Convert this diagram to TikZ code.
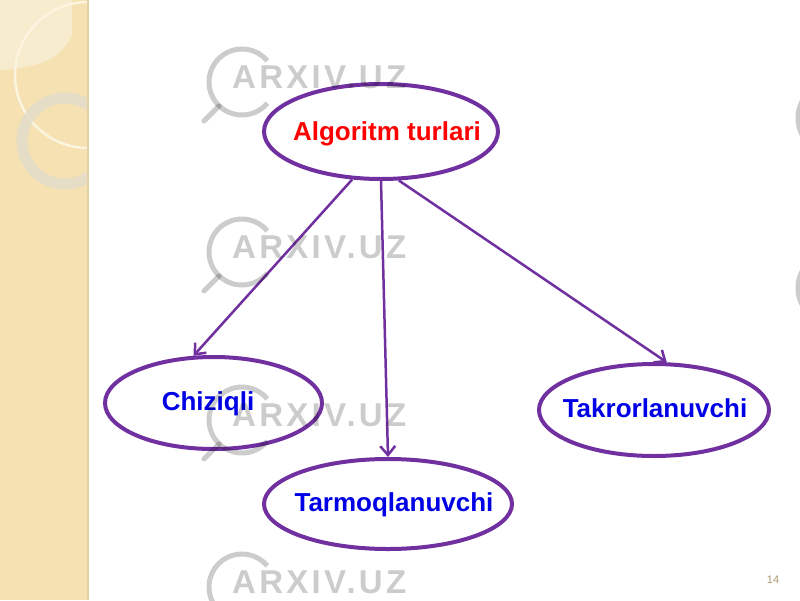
\documentclass[tikz,border=0pt]{standalone}
\usepackage{fontspec}
\setmainfont{Liberation Sans}
\newfontfamily\wmfont[LetterSpace=10]{Liberation Sans}
\usetikzlibrary{shapes.geometric,arrows.meta}
\definecolor{strip}{HTML}{F5E1B2}
\definecolor{stripl}{HTML}{F8ECCF}
\definecolor{stripedge}{HTML}{E2CFA2}
\definecolor{cream}{HTML}{FBF4DE}
\definecolor{ringgray}{HTML}{E2DCCB}
\definecolor{ellpurple}{HTML}{7030A0}
\definecolor{txtblue}{HTML}{0000E6}
\definecolor{numcol}{HTML}{B09A6E}
\tikzset{
  ell/.style={ellipse, draw=ellpurple, line width=4pt, fill=white, inner sep=0pt},
  lbl/.style={font=\bfseries\fontsize{26}{30}\selectfont, anchor=base, inner sep=0pt},
  arr/.style={draw=ellpurple, line width=2.5pt, -{Straight Barb[length=9pt,width=15pt,line width=2.5pt]}},
  wmtext/.style={font=\wmfont\bfseries\fontsize{33}{38}\selectfont, text=black, text opacity=0.2, inner sep=0pt},
  wmline/.style={draw=black, draw opacity=0.2, line width=5pt}
}
\begin{document}
\begin{tikzpicture}[x=1pt,y=-1pt]
\useasboundingbox (0,0) rectangle (800,600);
\fill[white] (0,0) rectangle (800,600);
% left decorative strip
\begin{scope}
  \clip (0,0) rectangle (88,600);
  \fill[strip] (0,0) rectangle (88,600);
  \fill[stripl] (0,0) -- (72,0) -- (72,35) .. controls (62,58) and (40,68) .. (0,70) -- cycle;
  \draw[cream, line width=2.5pt] (88,75) circle (73);
  \draw[ringgray, line width=11pt, opacity=0.8] (65,141) circle (43);
\end{scope}
\draw[stripedge, line width=2pt] (88,0) -- (88,600);

% nodes
\node[ell, minimum width=234pt, minimum height=95pt] (alg) at (381,131.5) {};
\node[ell, minimum width=217pt, minimum height=92pt] (chiz) at (213.5,403) {};
\node[ell, minimum width=248pt, minimum height=90pt] (tarm) at (388,504) {};
\node[ell, minimum width=230pt, minimum height=92pt] (takr) at (654,410) {};

\node[lbl, text=red] (talg) at (387,140) {Algoritm turlari};
\node[lbl, text=txtblue] (tchiz) at (208,410) {Chiziqli};
\node[lbl, text=txtblue] (ttarm) at (394,511) {Tarmoqlanuvchi};
\node[lbl, text=txtblue] (ttakr) at (655,417) {Takrorlanuvchi};

% connectors
\draw[arr] (alg.239) -- (chiz.113);
\draw[arr] (alg.270) -- (tarm.north);
\draw[arr] (alg.290) -- (takr.75);

% watermark
\foreach \yy [count=\i] in {77,247,415,582} {
  \draw[wmline] (242,\yy+5) ++(40:33) arc[start angle=40, end angle=320, radius=33];
  \draw[wmline, line cap=round] (219,\yy+29) -- (204,\yy+44);
  \node[wmtext, anchor=west] (wm\i) at (232,\yy) {ARXIV.UZ};
}
\draw[wmline] (834,118) circle (36);
\draw[wmline] (834,288) circle (36);

\node[font=\fontsize{11}{13}\selectfont, text=numcol, inner sep=0pt] (pg) at (773,580) {14};
\end{tikzpicture}
\end{document}
